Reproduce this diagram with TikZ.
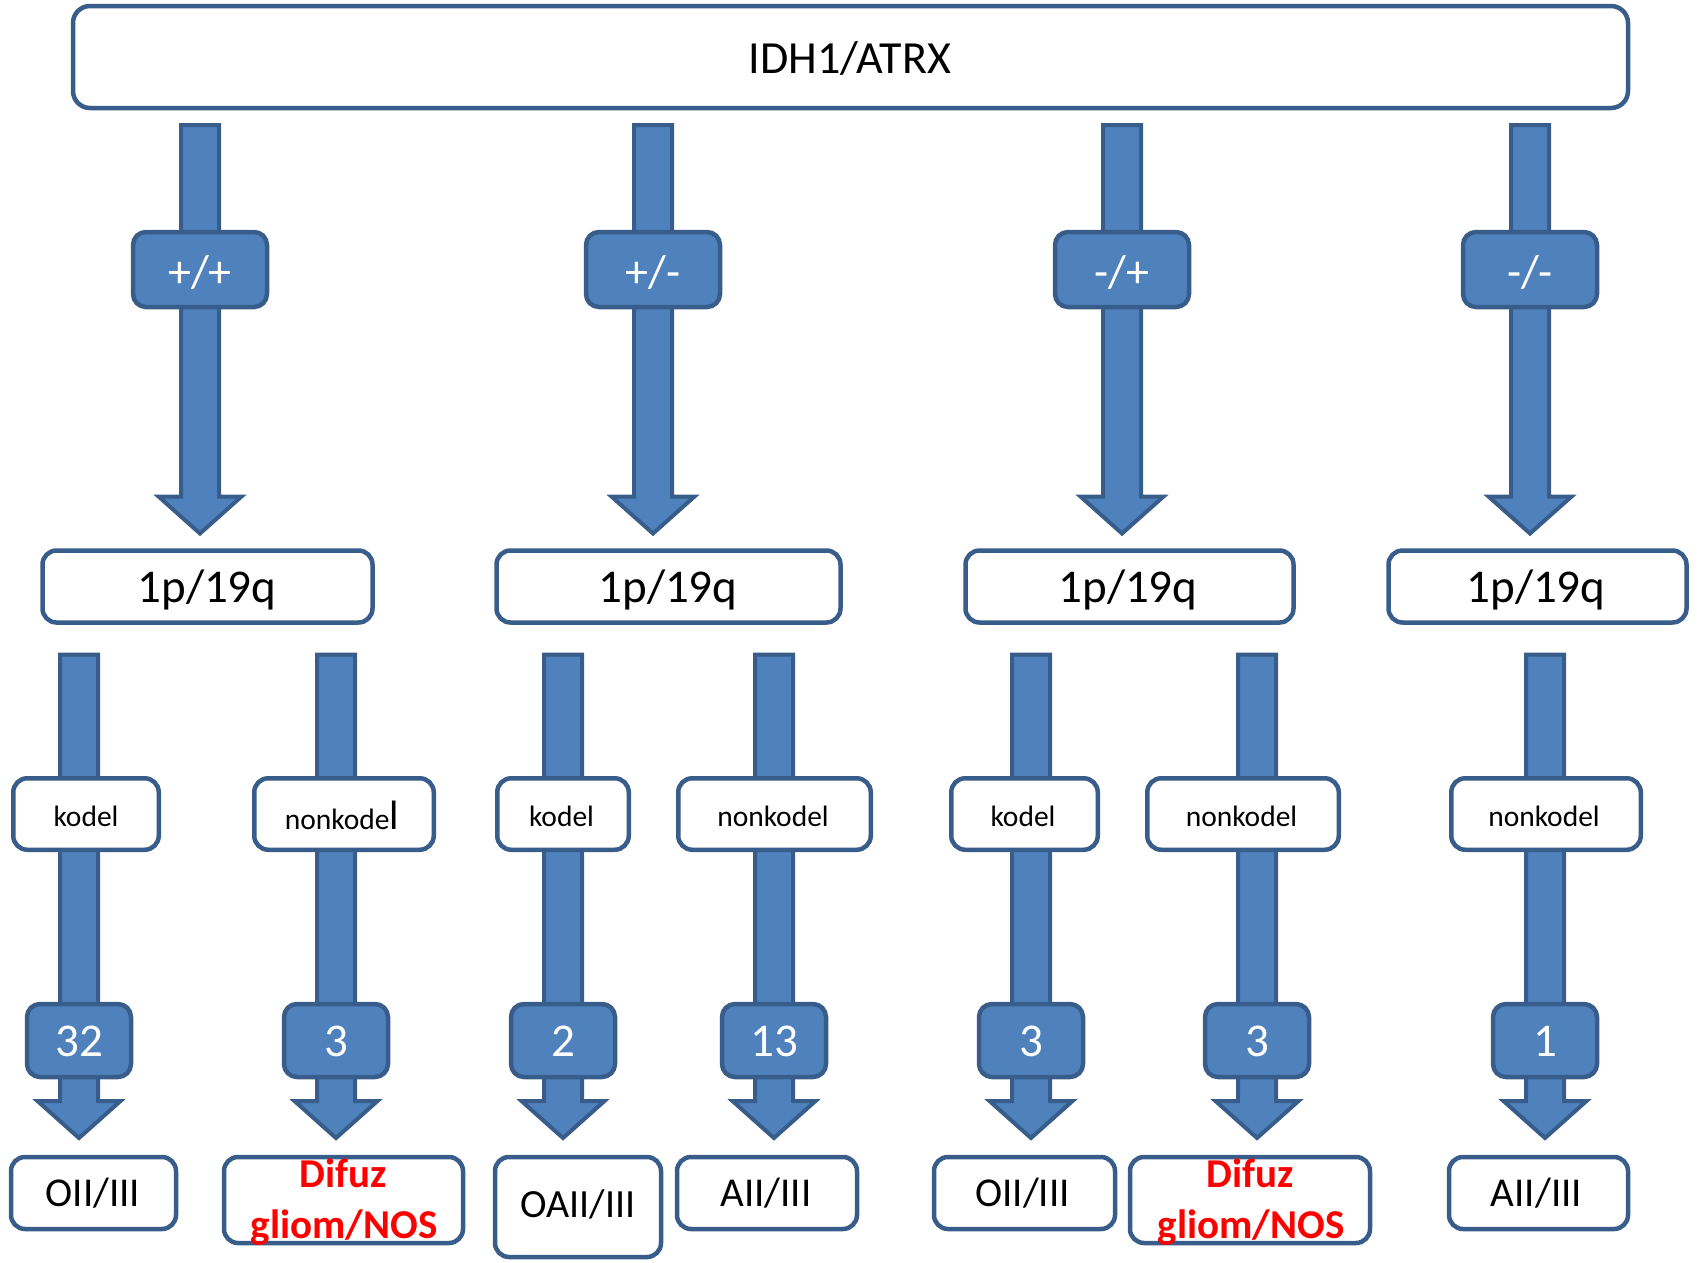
\documentclass[tikz,border=0pt]{standalone}
\usepackage{fontspec}
\setmainfont{Carlito}
\usetikzlibrary{calc,backgrounds}
\definecolor{fillb}{HTML}{4F81BD}
\definecolor{bord}{HTML}{385D8A}
\definecolor{redt}{HTML}{FF0000}
\newcommand\fsz[1]{\fontsize{#1}{#1}\selectfont}
\newcommand\blockarrow[2]{%
  \draw[barrow] let \p1=#1, \p2=#2 in
    (\x1-19pt,\y1) -- (\x1+19pt,\y1) -- (\x1+19pt,\y2+37pt) -- (\x1+41.5pt,\y2+37pt)
    -- (\x1,\y2) -- (\x1-41.5pt,\y2+37pt) -- (\x1-19pt,\y2+37pt) -- cycle;}
\begin{document}
\begin{tikzpicture}[x=1pt,y=-1pt,
  wbox/.style={draw=bord, line width=4.5pt, rounded corners=14pt, fill=white, inner sep=0pt, outer sep=0pt},
  bbox/.style={draw=bord, line width=4.5pt, rounded corners=13pt, fill=fillb, inner sep=0pt, outer sep=0pt},
  barrow/.style={draw=bord, fill=fillb, line width=4pt, line join=miter},
  txt/.style={inner sep=0pt, anchor=base, text=black},
  wtxt/.style={inner sep=0pt, anchor=base, text=white},
  rtxt/.style={inner sep=0pt, anchor=base, text=redt, font=\bfseries\fsz{41}},
  lvl/.style={bbox, minimum width=134pt, minimum height=75pt},
  pbox/.style={wbox, minimum height=72pt},
  kbox/.style={wbox, minimum height=71.5pt},
  nbox/.style={bbox, minimum width=104pt, minimum height=73pt},
  obox/.style={wbox, minimum height=72pt},
  dbox/.style={wbox, minimum height=86pt}]
\useasboundingbox (0,0) rectangle (1698,1262);

% top
\node[wbox, rounded corners=17pt, minimum width=1555pt, minimum height=102pt] (top) at (850.5,57) {};
\node[txt] (topt) at (850,73) {\fsz{46}IDH1/ATRX};

% level 1 labels
\node[lvl] (l1) at (200,269.5) {};
\node[lvl] (l2) at (653,269.5) {};
\node[lvl] (l3) at (1122,269.5) {};
\node[lvl] (l4) at (1530,269.5) {};
\node[wtxt] (l1t) at (200,287) {\fsz{46}+/+};
\node[wtxt] (l2t) at (653,287) {\fsz{46}+/-};
\node[wtxt] (l3t) at (1122,287) {\fsz{46}-/+};
\node[wtxt] (l4t) at (1530,287) {\fsz{46}-/-};

% 1p/19q
\node[pbox, minimum width=330pt] (p1) at (207.5,586.5) {};
\node[pbox, minimum width=344pt] (p2) at (668.5,586.5) {};
\node[pbox, minimum width=328pt] (p3) at (1129.5,586.5) {};
\node[pbox, minimum width=298pt] (p4) at (1537.5,586.5) {};
\node[txt] (p1t) at (207,602) {\fsz{47}1p/19q};
\node[txt] (p2t) at (668,602) {\fsz{47}1p/19q};
\node[txt] (p3t) at (1128,602) {\fsz{47}1p/19q};
\node[txt] (p4t) at (1536,602) {\fsz{47}1p/19q};

% kodel / nonkodel
\node[kbox, minimum width=145.5pt] (k1) at (86,814) {};
\node[kbox, minimum width=179.5pt] (k2) at (344,814) {};
\node[kbox, minimum width=131.5pt] (k3) at (563,814) {};
\node[kbox, minimum width=192.5pt] (k4) at (774.5,814) {};
\node[kbox, minimum width=146.5pt] (k5) at (1024.5,814) {};
\node[kbox, minimum width=191.5pt] (k6) at (1243,814) {};
\node[kbox, minimum width=189.5pt] (k7) at (1546,814) {};
\node[txt] (k1t) at (86,826) {\fsz{29.5}kodel};
\node[txt] (k2t) at (342,829) {\fsz{29.5}nonkode{\fsz{41}l}};
\node[txt] (k3t) at (561.5,826) {\fsz{29.5}kodel};
\node[txt] (k4t) at (773,826) {\fsz{29.5}nonkodel};
\node[txt] (k5t) at (1023,826) {\fsz{29.5}kodel};
\node[txt] (k6t) at (1241.5,826) {\fsz{29.5}nonkodel};
\node[txt] (k7t) at (1544,826) {\fsz{29.5}nonkodel};

% numbers
\node[nbox] (n1) at (79,1040.5) {};
\node[nbox] (n2) at (336,1040.5) {};
\node[nbox] (n3) at (563,1040.5) {};
\node[nbox] (n4) at (774,1040.5) {};
\node[nbox] (n5) at (1031,1040.5) {};
\node[nbox] (n6) at (1257,1040.5) {};
\node[nbox] (n7) at (1545,1040.5) {};
\node[wtxt] (n1t) at (79,1056) {\fsz{47}32};
\node[wtxt] (n2t) at (336,1056) {\fsz{47}3};
\node[wtxt] (n3t) at (563,1056) {\fsz{47}2};
\node[wtxt] (n4t) at (774,1056) {\fsz{47}13};
\node[wtxt] (n5t) at (1031,1056) {\fsz{47}3};
\node[wtxt] (n6t) at (1257,1056) {\fsz{47}3};
\node[wtxt] (n7t) at (1545,1056) {\fsz{47}1};

% bottom boxes
\node[obox, minimum width=165pt] (b1) at (93.5,1193) {};
\node[dbox, minimum width=239pt] (b2) at (343.5,1200) {};
\node[wbox, minimum width=166pt, minimum height=100pt] (b3) at (578,1207) {};
\node[obox, minimum width=180pt] (b4) at (767,1193) {};
\node[obox, minimum width=181pt] (b5) at (1024.5,1193) {};
\node[dbox, minimum width=240pt] (b6) at (1250,1200) {};
\node[obox, minimum width=179pt] (b7) at (1538.5,1193) {};
\node[txt] (b1t) at (93,1206) {\fsz{41}OII/III};
\node[rtxt] (b2a) at (343,1187) {Difuz};
\node[rtxt] (b2b) at (344,1238) {gliom/NOS};
\node[txt] (b3t) at (578,1217) {\fsz{40}OAII/III};
\node[txt] (b4t) at (766,1206) {\fsz{41}AII/III};
\node[txt] (b5t) at (1022.5,1206) {\fsz{41}OII/III};
\node[rtxt] (b6a) at (1250,1187) {Difuz};
\node[rtxt] (b6b) at (1251,1238) {gliom/NOS};
\node[txt] (b7t) at (1536.5,1206) {\fsz{41}AII/III};

\begin{scope}[on background layer]
  \blockarrow{($(top.south -| l1)+(0,17)$)}{($(p1.north -| l1)+(0,-17)$)}
  \blockarrow{($(top.south -| l2)+(0,17)$)}{($(p2.north -| l2)+(0,-17)$)}
  \blockarrow{($(top.south -| l3)+(0,17)$)}{($(p3.north -| l3)+(0,-17)$)}
  \blockarrow{($(top.south -| l4)+(0,17)$)}{($(p4.north -| l4)+(0,-17)$)}
  \blockarrow{($(p1.south -| n1)+(0,32)$)}{($(b1.north -| n1)+(0,-19)$)}
  \blockarrow{($(p1.south -| n2)+(0,32)$)}{($(b2.north -| n2)+(0,-19)$)}
  \blockarrow{($(p2.south -| n3)+(0,32)$)}{($(b3.north -| n3)+(0,-19)$)}
  \blockarrow{($(p2.south -| n4)+(0,32)$)}{($(b4.north -| n4)+(0,-19)$)}
  \blockarrow{($(p3.south -| n5)+(0,32)$)}{($(b5.north -| n5)+(0,-19)$)}
  \blockarrow{($(p3.south -| n6)+(0,32)$)}{($(b6.north -| n6)+(0,-19)$)}
  \blockarrow{($(p4.south -| n7)+(0,32)$)}{($(b7.north -| n7)+(0,-19)$)}
\end{scope}
\end{tikzpicture}
\end{document}
